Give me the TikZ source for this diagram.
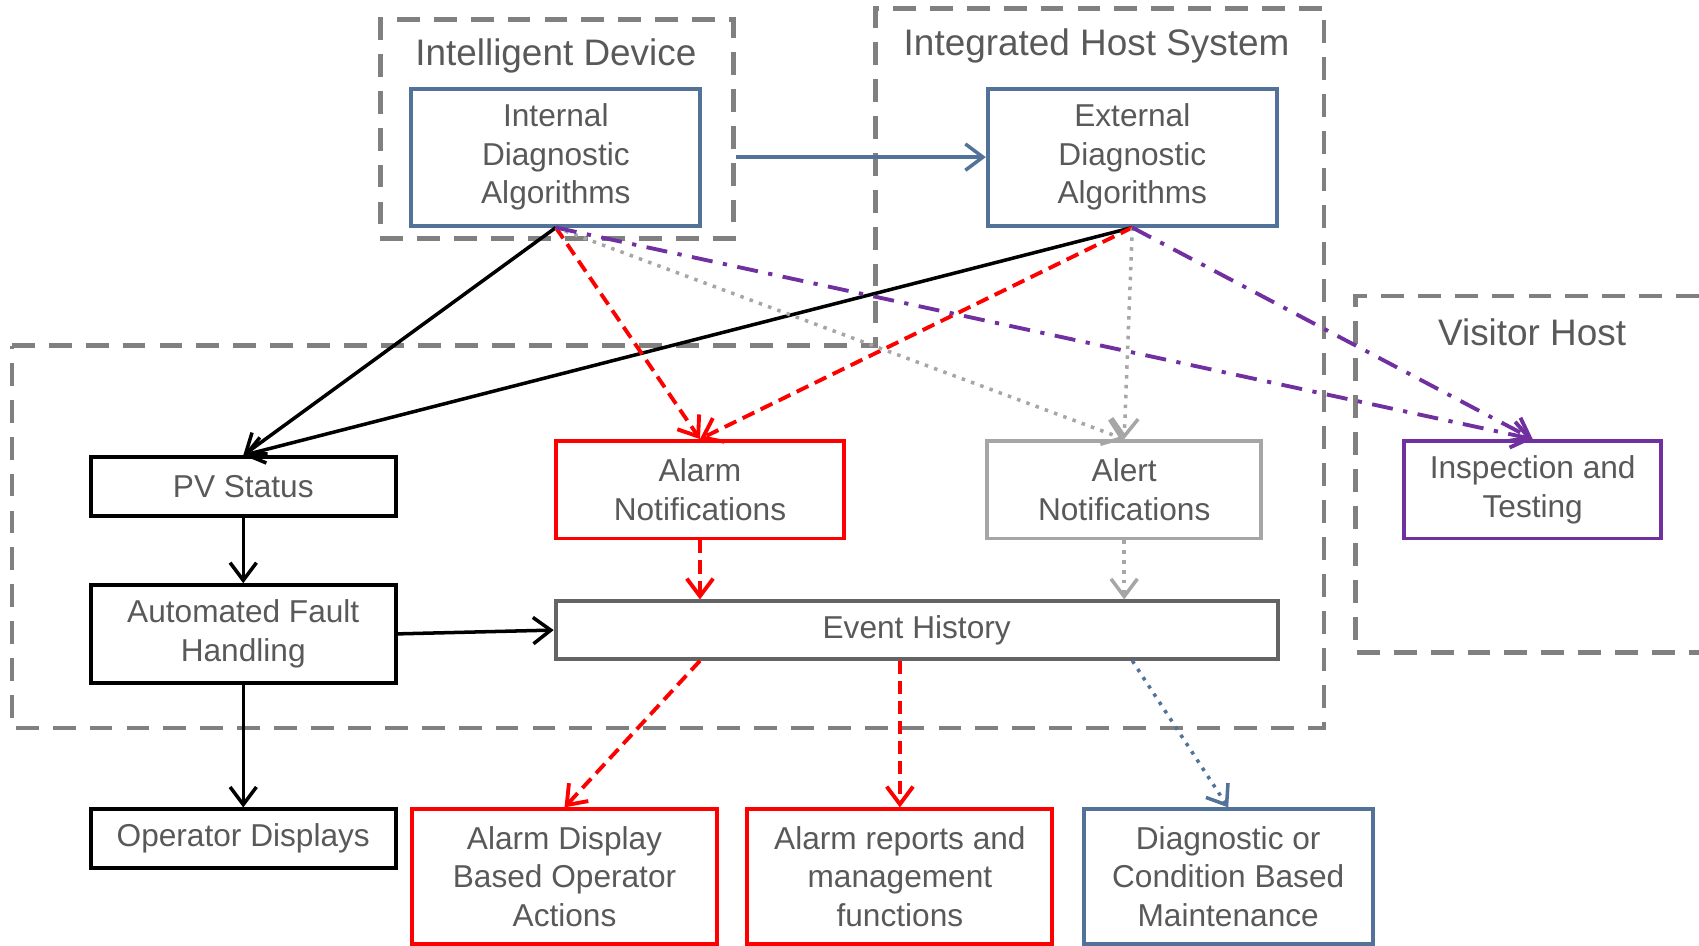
\documentclass[tikz,border=0pt]{standalone}
\usepackage{fontspec}
\setmainfont{Liberation Sans}
\usetikzlibrary{arrows.meta}

\definecolor{azul}{RGB}{82,114,154}
\definecolor{roxo}{RGB}{112,48,160}
\definecolor{cinzaclaro}{RGB}{166,166,166}
\definecolor{cinzaescuro}{RGB}{100,100,100}
\definecolor{tracejado}{RGB}{128,128,128}
\definecolor{texto}{RGB}{89,89,89}

\begin{document}
\begin{tikzpicture}[x=0.010835cm, y=-0.010835cm,
  >={Straight Barb[length=5pt,width=7.5pt]},
  caixa/.style={draw, line width=1.1pt, align=center, inner sep=0pt, text=texto, font=\fontsize{9}{11}\selectfont},
  grupo/.style={draw=tracejado, line width=1.3pt, dash pattern=on 6.5pt off 4pt},
  rotulo/.style={text=texto, font=\fontsize{10.5}{12}\selectfont},
  seta/.style={->, line width=1pt},
  tracos/.style={->, red, line width=1.1pt, dash pattern=on 3.7pt off 2pt},
  pontos/.style={->, line width=1pt, dash pattern=on 1pt off 1.8pt},
  tracoponto/.style={->, roxo, line width=1.1pt, dash pattern=on 6pt off 3pt on 1.2pt off 3pt}]
  \useasboundingbox (0,0) rectangle (1568,873);
  % Grupos
  \node[grupo, minimum width=3.53cm, minimum height=2.19cm] (devbox) at (514,119) {};
  \draw[grupo] (11,319) -- (808,319) -- (808,8) -- (1222,8) -- (1222,672) -- (11,672) -- cycle;
  \draw[grupo] (1568,273) -- (1251,273) -- (1251,602) -- (1568,602);
  \node[rotulo] (lbldev) at (513,52) {Intelligent Device};
  \node[rotulo] (lblhost) at (1012,42) {Integrated Host System};
  \node[rotulo] (lblvis) at (1414,307) {Visitor Host};
  % Caixas
  \node[caixa, draw=azul, minimum width=2.89cm, minimum height=1.37cm] (int) at (513,145) {Internal\\Diagnostic\\Algorithms};
  \node[caixa, draw=azul, minimum width=2.89cm, minimum height=1.37cm] (ext) at (1045,145) {External\\Diagnostic\\Algorithms};
  \node[caixa, draw=black, minimum width=3.05cm, minimum height=0.585cm] (pv) at (224.5,449) {PV Status};
  \node[caixa, draw=black, minimum width=3.05cm, minimum height=0.975cm] (afh) at (224.5,585) {Automated Fault\\Handling};
  \node[caixa, draw=black, minimum width=3.05cm, minimum height=0.585cm] (op) at (224.5,774) {Operator Displays};
  \node[caixa, draw=red, minimum width=2.88cm, minimum height=0.975cm] (alarm) at (646,452) {Alarm\\Notifications};
  \node[caixa, draw=cinzaclaro, minimum width=2.74cm, minimum height=0.975cm] (alert) at (1037.5,452) {Alert\\Notifications};
  \node[caixa, draw=roxo, minimum width=2.57cm, minimum height=0.975cm] (insp) at (1414.5,452) {Inspection and\\Testing};
  \node[caixa, draw=cinzaescuro, minimum width=7.22cm, minimum height=0.575cm] (ev) at (846,581.5) {Event History};
  \node[caixa, draw=red, minimum width=3.05cm, minimum height=1.345cm] (ad) at (521,809) {Alarm Display\\Based Operator\\Actions};
  \node[caixa, draw=red, minimum width=3.05cm, minimum height=1.345cm] (ar) at (830.5,809) {Alarm reports and\\management\\functions};
  \node[caixa, draw=azul, minimum width=2.89cm, minimum height=1.345cm] (dc) at (1133.5,809) {Diagnostic or\\Condition Based\\Maintenance};
  % Setas
  \draw[seta, azul] (int.east -| devbox.east) -- (ext.west);
  \draw[seta] (int.south) -- (pv.north);
  \draw[seta] (ext.south) -- (pv.north);
  \draw[tracos] (int.south) -- (alarm.north);
  \draw[tracos] (ext.south) -- (alarm.north);
  \draw[pontos, cinzaclaro] (int.south) -- (alert.north);
  \draw[pontos, cinzaclaro] (ext.south) -- (alert.north);
  \draw[tracoponto] (int.south) -- (insp.north);
  \draw[tracoponto] (ext.south) -- (insp.north);
  \draw[seta] (pv.south) -- (afh.north);
  \draw[seta] (afh.east) -- (ev.west);
  \draw[seta] (afh.south) -- (op.north);
  \draw[tracos] (alarm.south) -- (alarm.south |- ev.north);
  \draw[pontos, cinzaclaro] (alert.south) -- (alert.south |- ev.north);
  \draw[tracos] (alarm.south |- ev.south) -- (ad.north);
  \draw[tracos] (ar.north |- ev.south) -- (ar.north);
  \draw[pontos, azul] (ext.south |- ev.south) -- (dc.north);
\end{tikzpicture}
\end{document}
